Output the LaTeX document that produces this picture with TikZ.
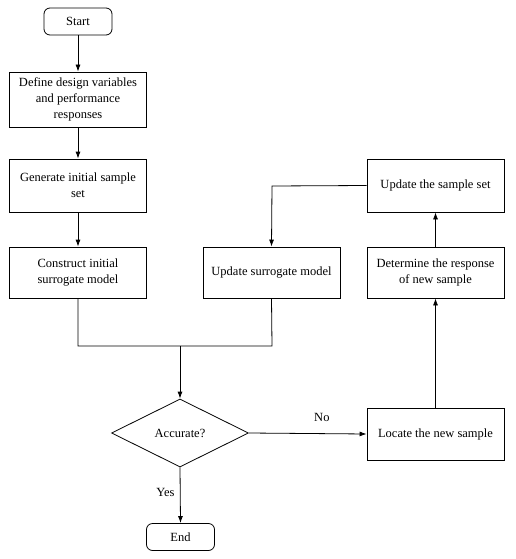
\documentclass[tikz,border=0pt]{standalone}
\usepackage{fontspec}
\setmainfont{Liberation Serif}
\usetikzlibrary{shapes.geometric,arrows.meta}
\begin{document}
\begin{tikzpicture}[x=1pt,y=-1pt,
  every node/.style={font=\fontsize{12.5}{16}\selectfont},
  box/.style={draw,line width=0.8pt,minimum width=137pt,minimum height=#1,align=center,inner sep=2pt},
  box/.default=53pt,
  term/.style={draw,line width=0.8pt,rounded corners=6pt,minimum width=68pt,minimum height=27pt},
  dec/.style={draw,line width=0.8pt,diamond,aspect=2,minimum width=137pt,minimum height=68pt,inner sep=0pt},
  arr/.style={line width=0.8pt,-{Latex[length=7pt,width=5pt]}},
  ln/.style={line width=0.8pt}]
\useasboundingbox (0,0) rectangle (516,559);
\node[term] (start) at (78,21.5) {Start};
\node[box=55pt] (def) at (78,99.5) {Define design variables\\and performance\\responses};
\node[box] (gen) at (78,185.5) {Generate initial sample\\set};
\node[box=51pt] (con) at (78,272.5) {Construct initial\\surrogate model};
\node[box=51pt] (ups) at (271.5,272.5) {Update surrogate model};
\node[box] (upset) at (435.5,185.5) {Update the sample set};
\node[box=51pt] (det) at (435.5,272.5) {Determine the response\\of new sample};
\node[box=52pt] (loc) at (435.5,434) {Locate the new sample};
\node[dec] (acc) at (180,433) {Accurate?};
\node[term] (end) at (180.5,537) {End};
\coordinate (m1) at (78,346);
\coordinate (m2) at (272,346);
\coordinate (m3) at (180,346);
\coordinate (c1) at (272,186);
\draw[arr] (start) -- (def);
\draw[arr] (def) -- (gen);
\draw[arr] (gen) -- (con);
\draw[ln] (con.south) -- (m1) -- (m2) -- (ups.south);
\draw[arr] (m3) -- (acc.north);
\draw[arr] (acc.east) -- node[above=8pt,pos=0.62]{No} (loc.west);
\draw[arr] (acc.south) -- node[left=2pt,pos=0.45]{Yes} (end.north);
\draw[arr] (loc.north) -- (det.south);
\draw[arr] (det.north) -- (upset.south);
\draw[arr] (upset.west) -- (c1) -- (ups.north);
\end{tikzpicture}
\end{document}
